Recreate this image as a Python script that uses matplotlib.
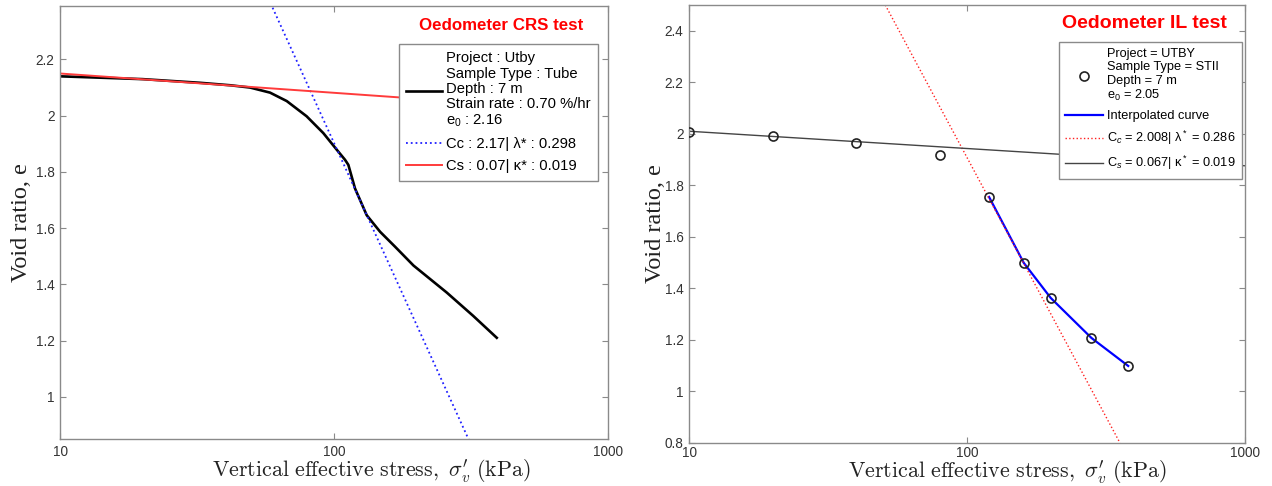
import numpy as np
import matplotlib
matplotlib.use("Agg")
from matplotlib import pyplot as plt

plt.rcParams['font.family'] = ['Liberation Sans', 'DejaVu Sans']
plt.rcParams['mathtext.fontset'] = 'custom'
plt.rcParams['mathtext.rm'] = 'Liberation Sans'
plt.rcParams['mathtext.it'] = 'Liberation Sans:italic'
plt.rcParams['mathtext.bf'] = 'Liberation Sans:bold'

# CRS test (left)
crs_stress = [10, 20, 32.4, 42, 49.4, 58.4, 67.2, 79.4, 91.4, 102.3, 109.7, 112.8,
              119.3, 131.6, 147.3, 167, 195, 257.8, 322, 392.6]
crs_void = [2.140, 2.130, 2.117, 2.108, 2.100, 2.082, 2.052, 1.998, 1.938, 1.879, 1.843, 1.825,
            1.741, 1.646, 1.587, 1.534, 1.467, 1.371, 1.288, 1.210]
crs_cc_stress = [55, 330]
crs_cc_void = [2.46, 0.79]
crs_cs_stress = [10, 400]
crs_cs_void = [2.150, 2.040]

# IL test (right)
il_stress = [10, 20, 40, 80, 120, 160, 200, 280, 380]
il_void = [2.008, 1.992, 1.965, 1.918, 1.755, 1.499, 1.363, 1.208, 1.099]
il_cc_stress = [50.8, 355]
il_cc_void = [2.50, 0.80]
il_cs_stress = [10, 1000]
il_cs_void = [2.010, 1.876]

crs_label = "Project : Utby\nSample Type : Tube\nDepth : 7 m\nStrain rate : 0.70 %/hr\ne$_0$ : 2.16"
il_label = "Project = UTBY\nSample Type = STII\nDepth = 7 m\ne$_0$ = 2.05"

xlabel = r"$\mathrm{Vertical\ effective\ stress,}\ \sigma_v'\ \mathrm{(kPa)}$"

fig = plt.figure(figsize=(12.72, 4.86), dpi=100)
ax1 = fig.add_axes([0.0472, 0.0967, 0.4308, 0.8909])
ax2 = fig.add_axes([0.5417, 0.0885, 0.4371, 0.9012])

spine_col = '#8a8a8a'
for ax in (ax1, ax2):
    ax.set_xscale('log')
    ax.set_xlim(10, 1000)
    ax.set_xticks([10, 100, 1000])
    ax.set_xticklabels(['10', '100', '1000'])
    ax.xaxis.set_minor_locator(matplotlib.ticker.NullLocator())
    ax.tick_params(direction='in', length=4, width=0.8, color=spine_col, pad=4,
                   labelsize=9.8, labelcolor='#333333', top=True, right=True)
    for s in ax.spines.values():
        s.set_color(spine_col)
        s.set_linewidth(1.0)
    ax.set_xlabel(xlabel, fontsize=15.8, math_fontfamily='cm', color='#222222')
    ax.set_ylabel("Void ratio, e", fontsize=17.5, family='Liberation Serif', color='#222222')

# left panel
ax1.plot(crs_stress, crs_void, color='black', lw=1.9, label=crs_label)
ax1.plot(crs_cc_stress, crs_cc_void, color='#2020ff', ls=':', lw=1.3,
         label="Cc : 2.17| λ* : 0.298")
ax1.plot(crs_cs_stress, crs_cs_void, color='#ff3b3b', lw=1.4,
         label="Cs : 0.07| κ* : 0.019")
ax1.set_ylim(0.85, 2.39)
ax1.set_yticks([1, 1.2, 1.4, 1.6, 1.8, 2, 2.2])
ax1.set_yticklabels(['1', '1.2', '1.4', '1.6', '1.8', '2', '2.2'])
ax1.text(0.954, 0.954, "Oedometer CRS test", transform=ax1.transAxes, ha='right', va='center',
         color='#ff0000', fontsize=12.2, fontweight='bold')
leg1 = ax1.legend(loc='upper right', bbox_to_anchor=(0.982, 0.912), fontsize=10.6,
                  handlelength=2.4, handletextpad=0.3, labelspacing=0.55,
                  borderpad=0.5, borderaxespad=0, fancybox=False, framealpha=1,
                  edgecolor='#8a8a8a')
leg1.get_frame().set_linewidth(1.0)
for t in leg1.get_texts():
    t.set_linespacing(1.12)
ax1.xaxis.set_label_coords(0.569, -0.043)
ax1.yaxis.set_label_coords(-0.051, 0.5)

# right panel
ax2.plot(il_stress, il_void, ls='none', marker='o', ms=6.5, mfc='none', mec='#222222',
         mew=1.2, label=il_label, zorder=4)
ax2.plot(il_stress[4:], il_void[4:], color='#0000ff', lw=1.6, label="Interpolated curve")
ax2.plot(il_cc_stress, il_cc_void, color='#ff2020', ls=':', lw=1.0,
         label="C$_c$ = 2.008| λ$^*$ = 0.286")
ax2.plot(il_cs_stress, il_cs_void, color='#444444', lw=1.0,
         label="C$_s$ = 0.067| κ$^*$ = 0.019")
ax2.set_ylim(0.8, 2.5)
ax2.set_yticks([0.8, 1, 1.2, 1.4, 1.6, 1.8, 2, 2.2, 2.4])
ax2.set_yticklabels(['0.8', '1', '1.2', '1.4', '1.6', '1.8', '2', '2.2', '2.4'])
ax2.tick_params(axis='x', pad=2.5)
ax2.text(0.968, 0.957, "Oedometer IL test", transform=ax2.transAxes, ha='right', va='center',
         color='#ff0000', fontsize=14, fontweight='bold')
leg2 = ax2.legend(loc='upper right', bbox_to_anchor=(0.995, 0.9155), fontsize=9.2,
                  handlelength=3.0, handletextpad=0.3, labelspacing=0.55,
                  borderpad=0.5, borderaxespad=0, fancybox=False, framealpha=1,
                  edgecolor='#8a8a8a')
leg2.get_frame().set_linewidth(1.0)
for t in leg2.get_texts():
    t.set_linespacing(1.12)
ax2.xaxis.set_label_coords(0.572, -0.036)
ax2.yaxis.set_label_coords(-0.042, 0.5)

fig.savefig("out.png", dpi=100)
